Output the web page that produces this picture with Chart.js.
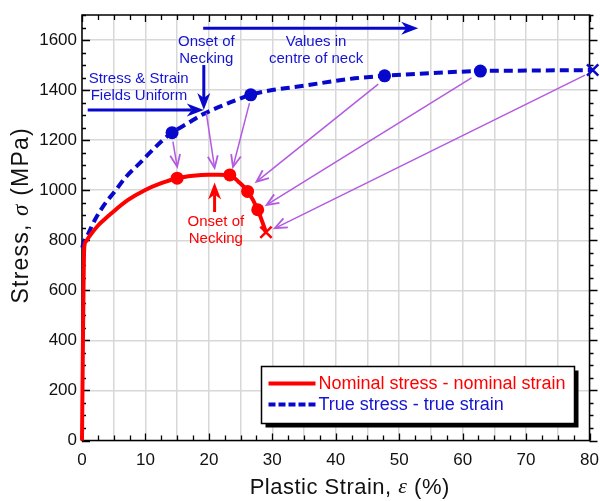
<!DOCTYPE html>
<html>
<head>
<meta charset="utf-8">
<script src="https://cdn.jsdelivr.net/npm/chart.js@4.4.1/dist/chart.umd.min.js"></script>
<style>
  html, body { margin: 0; padding: 0; background: #fff; }
  #c { display: block; }
</style>
</head>
<body>
<canvas id="c" width="600" height="501"></canvas>
<script>
// curve data (strain in %, stress in MPa)
const nominalStrain = [0, 0.15, 0.35, 0.6, 1.2, 2.5, 3.4, 4.6, 7.2, 9.9, 12.5, 15.0, 17.5, 20.0, 21.5, 23.3, 24.7, 26.1, 27.7, 29.0];
const nominalStress = [0, 400, 770, 795, 817, 858, 880, 907, 960, 1000, 1028, 1048, 1058, 1062, 1062, 1060, 1033, 996, 922, 832];
const trueStrain = [0.05, 0.15, 0.9, 2.0, 3.6, 5.1, 7.0, 9.3, 10.7, 12.5, 14.2, 16.7, 19.2, 23.0, 26.6, 30.0, 33.8, 39.0, 43.0, 47.7, 55.0, 62.8, 70.0, 80.5];
const trueStress = [770, 782, 822, 880, 945, 993, 1055, 1113, 1150, 1195, 1230, 1268, 1305, 1347, 1381, 1400, 1413, 1433, 1447, 1457, 1468, 1476, 1478, 1480];

// marked states
const nominalMarkStrain = [15.0, 23.3, 26.1, 27.7];
const nominalMarkStress = [1048, 1061, 995, 922];
const trueMarkStrain = [14.2, 26.6, 47.7, 62.8];
const trueMarkStress = [1230, 1381, 1457, 1476];
const nominalEnd = [29.0, 832];
const trueEnd = [80.5, 1480];

const seriesNames = ['Nominal stress - nominal strain', 'True stress - true strain'];
const xTickValues = [0, 10, 20, 30, 40, 50, 60, 70, 80];
const yTickValues = [0, 200, 400, 600, 800, 1000, 1200, 1400, 1600];

const RED = '#ff0000';
const BLUE = '#0808cc';
const BLUE_TXT = '#1414d2';
const PURPLE = '#b45ae0';
const FONT = '"Liberation Sans", Arial, sans-serif';
const SERIF = '"Liberation Serif", "Times New Roman", serif';

const pts = (xs, ys) => xs.map((v, i) => ({ x: v, y: ys[i] }));

// annotations in data units
const notes = [
  { lines: ['Onset of', 'Necking'], x: 19.6, y: 1593, color: BLUE_TXT, align: 'center' },
  { lines: ['Values in', 'centre of neck'], x: 36.9, y: 1593, color: BLUE_TXT, align: 'center' },
  { lines: ['Stress & Strain', 'Fields Uniform'], x: 1.05, y: 1444, color: BLUE_TXT, align: 'left' },
  { lines: ['Onset of', 'Necking'], x: 21.1, y: 874, color: RED, align: 'center' }
];
const bigArrows = [
  { from: [19.1, 1647], to: [53.0, 1647], color: BLUE },
  { from: [19.2, 1500], to: [19.2, 1320], color: BLUE },
  { from: [0.9, 1320], to: [19.2, 1320], color: BLUE },
  { from: [20.9, 913], to: [20.9, 1031], color: RED }
];
const linkArrows = [
  { from: [14.33, 1194], to: [15.0, 1094] },
  { from: [19.6, 1308], to: [20.9, 1089] },
  { from: [26.4, 1348], to: [23.8, 1093] },
  { from: [46.7, 1424], to: [27.5, 1034] },
  { from: [61.4, 1449], to: [29.1, 941] },
  { from: [79.3, 1460], to: [30.4, 848] }
];

const xTitle = [['Plastic Strain, ', FONT, ''], ['ε', SERIF, 'italic '], [' (%)', FONT, '']];
const yTitle = [['Stress, ', FONT, ''], ['σ', SERIF, 'italic '], [' (MPa)', FONT, '']];

function drawArrow(ctx, x1, y1, x2, y2, o) {
  const a = Math.atan2(y2 - y1, x2 - x1);
  const dx = Math.cos(a), dy = Math.sin(a);
  const px = -dy, py = dx;
  ctx.strokeStyle = o.color;
  ctx.fillStyle = o.color;
  ctx.lineWidth = o.width;
  ctx.lineCap = 'butt';
  ctx.beginPath();
  ctx.moveTo(x1, y1);
  ctx.lineTo(x2 - dx * (o.filled ? o.len - o.notch : 1), y2 - dy * (o.filled ? o.len - o.notch : 1));
  ctx.stroke();
  const bx = x2 - dx * o.len, by = y2 - dy * o.len;
  if (o.filled) {
    ctx.beginPath();
    ctx.moveTo(x2, y2);
    ctx.lineTo(bx + px * o.half, by + py * o.half);
    ctx.lineTo(x2 - dx * (o.len - o.notch), y2 - dy * (o.len - o.notch));
    ctx.lineTo(bx - px * o.half, by - py * o.half);
    ctx.closePath();
    ctx.fill();
  } else {
    ctx.lineWidth = o.headWidth;
    ctx.beginPath();
    ctx.moveTo(bx + px * o.half, by + py * o.half);
    ctx.lineTo(x2, y2);
    ctx.lineTo(bx - px * o.half, by - py * o.half);
    ctx.stroke();
  }
}

// text made of pieces in different fonts, drawn from (0,0) along +x
function drawPieces(ctx, pieces, size, spacing, align) {
  ctx.letterSpacing = spacing + 'px';
  const fonts = pieces.map(p => p[2] + size + 'px ' + p[1]);
  const widths = pieces.map((p, i) => { ctx.font = fonts[i]; return ctx.measureText(p[0]).width; });
  const total = widths.reduce((s, w) => s + w, 0);
  let x = align === 'center' ? -total / 2 : 0;
  ctx.textAlign = 'left';
  ctx.textBaseline = 'middle';
  pieces.forEach((p, i) => { ctx.font = fonts[i]; ctx.fillText(p[0], x, 0); x += widths[i]; });
  ctx.letterSpacing = '0px';
}

// box round the plot, tick marks, axis titles
const framePlugin = {
  id: 'frame',
  beforeDatasetsDraw(chart) {
    const { ctx, chartArea: a, scales: { x, y } } = chart;
    ctx.save();
    ctx.strokeStyle = '#000';
    ctx.lineWidth = 1.5;
    ctx.strokeRect(a.left, a.top, a.right - a.left, a.bottom - a.top);
    ctx.beginPath();
    for (let v = 0; v <= 80; v += 2.5) {
      const p = Math.round(x.getPixelForValue(v)) + 0.5;
      const len = v % 10 === 0 ? 7 : 5;
      ctx.moveTo(p, a.bottom); ctx.lineTo(p, a.bottom - len);
      ctx.moveTo(p, a.top); ctx.lineTo(p, a.top + len);
    }
    for (let v = 0; v <= 1700; v += 50) {
      const p = Math.round(y.getPixelForValue(v)) + 0.5;
      const len = v % 200 === 0 ? 8 : 4;
      ctx.moveTo(a.left, p); ctx.lineTo(a.left + len, p);
      ctx.moveTo(a.right, p); ctx.lineTo(a.right + len, p);
    }
    ctx.lineWidth = 1.3;
    ctx.stroke();

    ctx.fillStyle = '#111';
    ctx.save();
    ctx.translate((a.left + a.right) / 2 + 14, a.bottom + 47);
    drawPieces(ctx, xTitle, 22, 0.5, 'center');
    ctx.restore();
    ctx.save();
    ctx.translate(22, a.bottom - 137);
    ctx.rotate(-Math.PI / 2);
    drawPieces(ctx, yTitle, 23, 1.2, 'left');
    ctx.restore();
    ctx.restore();
  },
  afterDatasetsDraw(chart) {
    const { ctx, chartArea: a, scales: { x, y } } = chart;
    ctx.save();
    linkArrows.forEach(ar => {
      drawArrow(ctx, x.getPixelForValue(ar.from[0]), y.getPixelForValue(ar.from[1]),
        x.getPixelForValue(ar.to[0]), y.getPixelForValue(ar.to[1]),
        { color: PURPLE, width: 1.5, headWidth: 1.8, len: 12, half: 5, filled: false });
    });
    bigArrows.forEach(ar => {
      drawArrow(ctx, x.getPixelForValue(ar.from[0]), y.getPixelForValue(ar.from[1]),
        x.getPixelForValue(ar.to[0]), y.getPixelForValue(ar.to[1]),
        { color: ar.color, width: 3, len: 17, half: 6.5, notch: 5, filled: true });
    });
    ctx.font = '15px ' + FONT;
    ctx.textBaseline = 'middle';
    notes.forEach(n => {
      ctx.fillStyle = n.color;
      ctx.textAlign = n.align;
      const px = x.getPixelForValue(n.x);
      const py = y.getPixelForValue(n.y);
      n.lines.forEach((t, i) => ctx.fillText(t, px + (n.align === 'left' ? i * 2 : 0), py + i * 17));
    });

    // legend box
    const bw = 313, bh = 57;
    const bx = a.right - 15 - bw, by = a.bottom - 17 - bh;
    ctx.fillStyle = '#000';
    ctx.fillRect(bx + 4, by + 4, bw, bh);
    ctx.fillStyle = '#fff';
    ctx.fillRect(bx, by, bw, bh);
    ctx.strokeStyle = '#000';
    ctx.lineWidth = 1.5;
    ctx.strokeRect(bx, by, bw, bh);
    const rows = [
      { name: seriesNames[0], color: RED, text: RED, dash: [] },
      { name: seriesNames[1], color: BLUE, text: BLUE_TXT, dash: [7, 3] }
    ];
    rows.forEach((r, i) => {
      const ly = by + 17 + i * 21;
      ctx.strokeStyle = r.color;
      ctx.lineWidth = 4;
      ctx.setLineDash(r.dash);
      ctx.beginPath();
      ctx.moveTo(bx + 7, ly);
      ctx.lineTo(bx + 54, ly);
      ctx.stroke();
      ctx.setLineDash([]);
      ctx.fillStyle = r.text;
      ctx.font = '18px ' + FONT;
      ctx.textAlign = 'left';
      ctx.fillText(r.name, bx + 57, ly + 1);
    });
    ctx.restore();
  }
};

const ctx = document.getElementById('c').getContext('2d');
const chart = new Chart(ctx, {
  type: 'scatter',
  data: {
    datasets: [
      { data: [{ x: nominalEnd[0], y: nominalEnd[1] }], pointStyle: 'crossRot', pointRadius: 8,
        borderColor: RED, borderWidth: 2.5, clip: false },
      { data: [{ x: trueEnd[0], y: trueEnd[1] }], pointStyle: 'crossRot', pointRadius: 8,
        borderColor: BLUE, borderWidth: 2.5, clip: false },
      { data: pts(nominalMarkStrain, nominalMarkStress), pointRadius: 6.5,
        backgroundColor: RED, borderColor: RED, borderWidth: 0 },
      { data: pts(trueMarkStrain, trueMarkStress), pointRadius: 6.5,
        backgroundColor: BLUE, borderColor: BLUE, borderWidth: 0 },
      { label: seriesNames[0], data: pts(nominalStrain, nominalStress), showLine: true,
        borderColor: RED, borderWidth: 4, pointRadius: 0, cubicInterpolationMode: 'monotone',
        clip: 3 },
      { label: seriesNames[1], data: pts(trueStrain, trueStress), showLine: true,
        borderColor: BLUE, borderWidth: 4, borderDash: [9, 5], pointRadius: 0,
        cubicInterpolationMode: 'monotone', clip: false }
    ]
  },
  options: {
    responsive: false,
    animation: false,
    devicePixelRatio: 1,
    layout: { padding: { left: 0, right: 10, top: 15, bottom: 0 } },
    plugins: { legend: { display: false }, tooltip: { enabled: false } },
    scales: {
      x: {
        type: 'linear', min: 0, max: 80,
        afterBuildTicks: s => { s.ticks = []; for (let v = 0; v <= 80; v += 5) s.ticks.push({ value: v }); },
        afterFit: s => { s.height = 60.5; s.paddingLeft = 0; s.paddingRight = 0; },
        ticks: {
          autoSkip: false, maxRotation: 0, padding: 10, color: '#111',
          font: { family: FONT, size: 17 },
          callback: v => xTickValues.includes(v) ? String(v) : ''
        },
        grid: { color: '#d8d8d8', lineWidth: 1.5, drawTicks: false },
        border: { display: false },
        title: { display: false }
      },
      y: {
        type: 'linear', min: 0, max: 1700,
        afterBuildTicks: s => { s.ticks = yTickValues.map(v => ({ value: v })); },
        afterFit: s => { s.width = 82; s.paddingTop = 0; s.paddingBottom = 0; },
        ticks: { padding: 5, color: '#111', font: { family: FONT, size: 17 }, callback: v => String(v) },
        grid: { color: '#d8d8d8', lineWidth: 1.5, drawTicks: false },
        border: { display: false },
        title: { display: false }
      }
    }
  },
  plugins: [framePlugin]
});
</script>
</body>
</html>
